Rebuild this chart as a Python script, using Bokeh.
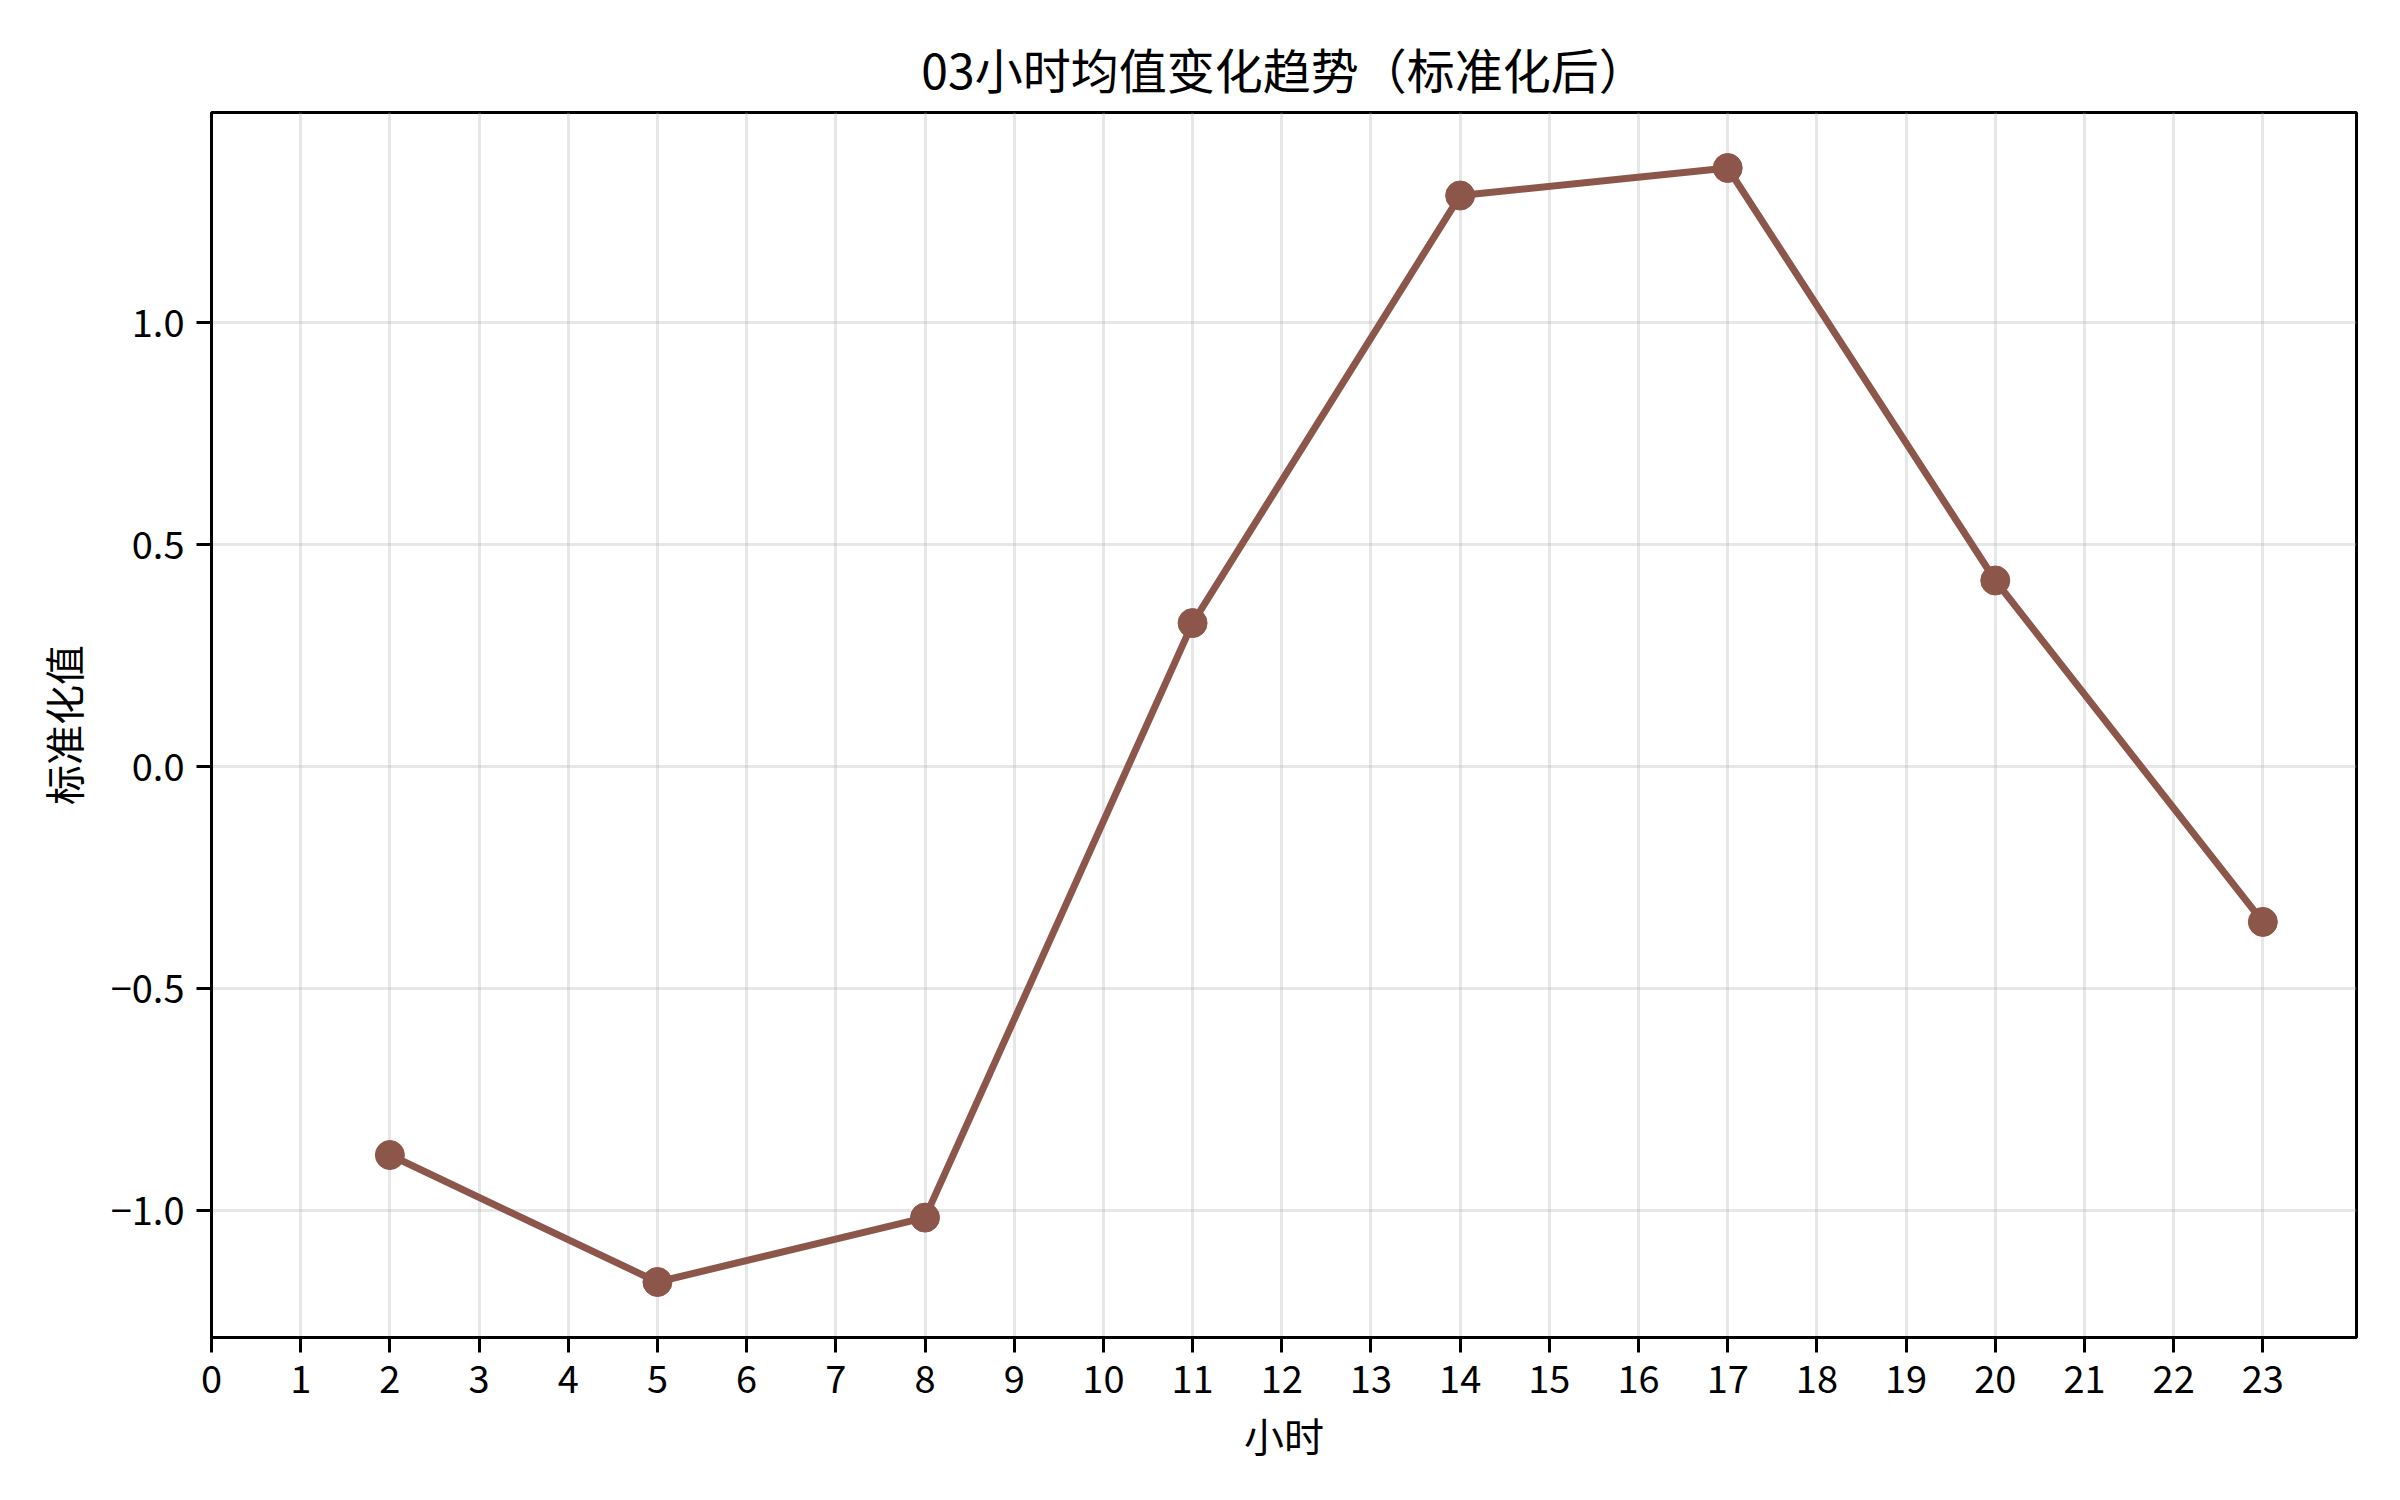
from bokeh.plotting import figure
from bokeh.models import Range1d, FixedTicker
from bokeh.embed import file_html
from bokeh.resources import INLINE

# Data
hours = [2, 5, 8, 11, 14, 17, 20, 23]
values = [-0.874, -1.160, -1.015, 0.324, 1.287, 1.349, 0.420, -0.349]
x_ticks = list(range(0, 24))
y_ticks = [-1.0, -0.5, 0.0, 0.5, 1.0]
y_tick_labels = {-1.0: "−1.0", -0.5: "−0.5", 0.0: "0.0", 0.5: "0.5", 1.0: "1.0"}
title_text = "03小时均值变化趋势（标准化后）"
x_label = "小时"
y_label = "标准化值"

FONT = "Noto Sans CJK SC"
COLOR = "#8c564b"

p = figure(width=2384, height=1484, output_backend="svg", toolbar_location=None,
           x_range=Range1d(0, 24.05), y_range=Range1d(-1.285, 1.474),
           min_border_left=211, min_border_right=28, min_border_top=112, min_border_bottom=147)

p.title.text = title_text
p.title.align = "center"
p.title.text_font = FONT
p.title.text_font_size = "48px"
p.title.text_font_style = "normal"
p.title.text_color = "black"
p.title.standoff = 19

p.line(hours, values, line_color=COLOR, line_width=7)
p.scatter(hours, values, size=29, fill_color=COLOR, line_color=COLOR)

p.xaxis.ticker = FixedTicker(ticks=x_ticks)
p.yaxis.ticker = FixedTicker(ticks=y_ticks)
p.yaxis.major_label_overrides = y_tick_labels

for ax in (p.xaxis[0], p.yaxis[0]):
    ax.axis_line_color = "black"
    ax.axis_line_width = 3
    ax.major_tick_line_color = "black"
    ax.major_tick_line_width = 3
    ax.major_tick_out = 15
    ax.major_tick_in = 0
    ax.minor_tick_line_color = None
    ax.major_label_text_font = FONT
    ax.major_label_text_font_size = "38px"
    ax.major_label_text_color = "black"
    ax.axis_label_text_font = FONT
    ax.axis_label_text_font_size = "40px"
    ax.axis_label_text_font_style = "normal"
    ax.axis_label_text_color = "black"

p.xaxis.axis_label = x_label
p.yaxis.axis_label = y_label
p.xaxis.major_label_standoff = 12
p.yaxis.major_label_standoff = 12
p.xaxis.axis_label_standoff = 10
p.yaxis.axis_label_standoff = 16

p.outline_line_color = "black"
p.outline_line_width = 3
p.outline_line_alpha = 1

p.xgrid.grid_line_color = "#b0b0b0"
p.xgrid.grid_line_alpha = 0.3
p.xgrid.grid_line_width = 3
p.ygrid.grid_line_color = "#b0b0b0"
p.ygrid.grid_line_alpha = 0.3
p.ygrid.grid_line_width = 3

p.background_fill_color = "white"
p.border_fill_color = "white"

open("out.html", "w").write(file_html(p, INLINE))
